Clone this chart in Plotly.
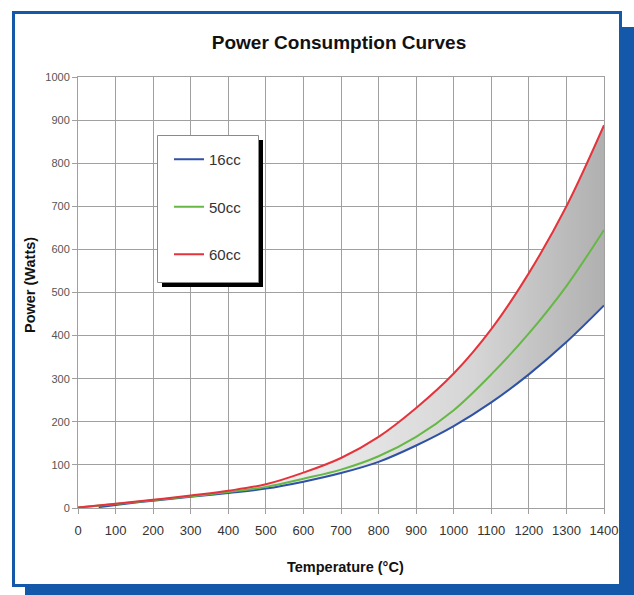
import plotly.graph_objects as go

# ---- data ----
temp_16 = [55, 100, 200, 300, 400, 500, 600, 700, 800, 900, 1000, 1100, 1200, 1300, 1400]
power_16 = [2, 7, 17, 26, 35, 45, 61, 81, 107, 145, 190, 245, 310, 385, 470]

temp_all = [0, 100, 200, 300, 400, 500, 600, 700, 800, 900, 1000, 1100, 1200, 1300, 1400]
power_50 = [1, 9, 18, 27, 37, 49, 68, 89, 120, 165, 227, 310, 405, 515, 645]
power_60 = [1, 10, 19, 29, 40, 55, 82, 116, 165, 232, 312, 415, 545, 700, 888]

series_names = ["16cc", "50cc", "60cc"]
x_ticks = list(range(0, 1401, 100))
y_ticks = list(range(0, 1001, 100))

# ---- layout geometry (pixels) ----
W, H = 634, 595
L, R, T, B = 78, 604, 77, 508
PW, PH = R - L, B - T


def px(x):
    return (x - L) / PW


def py(y):
    return (B - y) / PH


FONT = "Liberation Sans, Arial, sans-serif"
BLUE_FRAME = "#1459a9"
GRID = "#a0a0a0"
SMOOTH = 1.0

fig = go.Figure()

fig.add_trace(go.Scatter(
    x=temp_16, y=power_16, name=series_names[0], mode="lines",
    line=dict(color="#2f52a6", width=2, shape="spline", smoothing=SMOOTH),
    legendgroup="a", hoverinfo="skip"))

fig.add_trace(go.Scatter(
    x=temp_all, y=power_60, mode="lines", showlegend=False,
    line=dict(width=0, shape="spline", smoothing=SMOOTH),
    fill="tonexty",
    fillgradient=dict(type="horizontal",
                      colorscale=[[0, "#f6f6f6"], [0.45, "#ebebeb"],
                                  [0.75, "#d6d6d6"], [1, "#b0b0b0"]]),
    hoverinfo="skip"))

fig.add_trace(go.Scatter(
    x=temp_all, y=power_50, name=series_names[1], mode="lines",
    line=dict(color="#66b845", width=2, shape="spline", smoothing=SMOOTH),
    legendgroup="b", hoverinfo="skip"))

fig.add_trace(go.Scatter(
    x=temp_all, y=power_60, name=series_names[2], mode="lines",
    line=dict(color="#e5333c", width=2, shape="spline", smoothing=SMOOTH),
    legendgroup="c", hoverinfo="skip"))

shapes = [
    # blue drop shadow of the panel
    dict(type="rect", xref="paper", yref="paper", layer="below",
         x0=px(25), x1=px(640), y0=py(27), y1=py(600),
         fillcolor=BLUE_FRAME, line=dict(width=0)),
    # white panel with blue border
    dict(type="rect", xref="paper", yref="paper", layer="below",
         x0=px(13.5), x1=px(620.5), y0=py(12.5), y1=py(585.5),
         fillcolor="white", line=dict(color=BLUE_FRAME, width=3)),
    # legend shadow
    dict(type="rect", xref="paper", yref="paper", layer="above",
         x0=px(162), x1=px(263), y0=py(140), y1=py(287),
         fillcolor="black", line=dict(width=0)),
    # legend box
    dict(type="rect", xref="paper", yref="paper", layer="above",
         x0=px(157.5), x1=px(258.5), y0=py(135.5), y1=py(282.5),
         fillcolor="white", line=dict(color="#8a8a8a", width=1)),
]

annotations = [
    dict(text="<b>Temperature (°C)</b>", xref="paper", yref="paper",
         x=px(345), y=py(567), xanchor="center", yanchor="middle",
         showarrow=False, font=dict(family=FONT, size=14.5, color="#111111")),
    dict(text="<b>Power (Watts)</b>", xref="paper", yref="paper",
         x=px(30), y=py(285), xanchor="center", yanchor="middle", textangle=-90,
         showarrow=False, font=dict(family=FONT, size=14.5, color="#111111")),
]

fig.update_layout(
    width=W, height=H,
    margin=dict(l=L, r=W - R, t=T, b=H - B, pad=0),
    paper_bgcolor="white", plot_bgcolor="white",
    font=dict(family=FONT, color="#333333"),
    title=dict(text="<b>Power Consumption Curves</b>",
               font=dict(family=FONT, size=19, color="#111111"),
               x=339 / W, xanchor="center", xref="container",
               y=1 - 42 / H, yanchor="middle", yref="container"),
    showlegend=True,
    legend=dict(x=px(169), y=py(143), xanchor="left", yanchor="top",
                bgcolor="rgba(0,0,0,0)", borderwidth=0,
                traceorder="grouped", tracegroupgap=25,
                font=dict(family=FONT, size=15, color="#333333")),
    shapes=shapes,
    annotations=annotations,
    xaxis=dict(range=[0, 1400], tickvals=x_ticks, ticktext=[str(v) for v in x_ticks],
               showgrid=True, gridcolor=GRID, gridwidth=1,
               showline=True, linecolor=GRID, linewidth=1, mirror=True,
               ticks="outside", ticklen=5, tickcolor=GRID, zeroline=False,
               ticklabelstandoff=5,
               tickfont=dict(family=FONT, size=13, color="#333333"),
               fixedrange=True),
    yaxis=dict(range=[0, 1000], tickvals=y_ticks, ticktext=[str(v) for v in y_ticks],
               showgrid=True, gridcolor=GRID, gridwidth=1,
               showline=True, linecolor=GRID, linewidth=1, mirror=True,
               ticks="outside", ticklen=5, tickcolor=GRID, zeroline=False,
               tickfont=dict(family=FONT, size=11, color="#555555"),
               fixedrange=True),
)

fig.write_html("out.html", config={"displayModeBar": False},
               post_script="document.body.style.margin='0';")
